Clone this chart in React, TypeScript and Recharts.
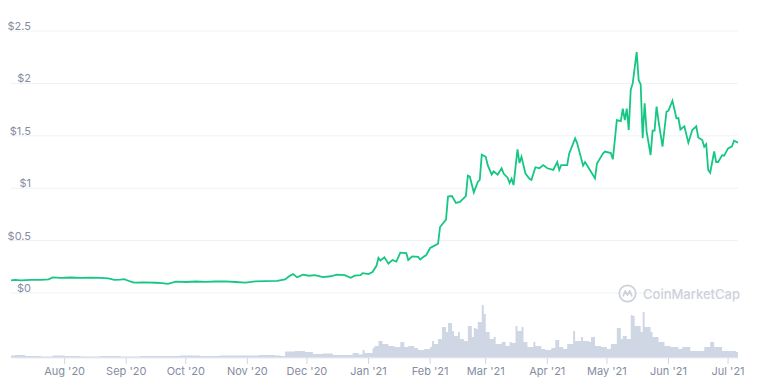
import React from 'react';
import { Area, CartesianGrid, ComposedChart, Line, XAxis, YAxis } from 'recharts';

// day 0 = 5 Jul 2020
const priceDays = [
	0, 2, 5, 10, 15, 19, 21, 25, 30, 35, 40, 45, 49, 52, 55, 57, 60, 62, 67, 73, 76, 79, 83, 88, 93, 98, 103, 108, 113, 118, 123, 128,
	134, 138, 140, 142, 144, 147, 150, 153, 157, 161, 164, 168, 171, 173, 176, 177, 180, 182, 184, 185, 186, 188, 190, 192, 194, 196,
	199, 200, 202, 205, 206, 208, 209, 211, 213, 215, 216, 219, 220, 222, 224, 226, 229, 230, 231, 233, 235, 236, 237, 239, 240, 242,
	243, 245, 247, 248, 250, 251, 252, 253, 255, 256, 257, 259, 261, 262, 264, 266, 268, 270, 273, 275, 276, 277, 280, 281, 284, 285,
	288, 289, 292, 294, 295, 298, 299, 302, 303, 305, 307, 308, 309, 310, 311, 312, 313, 315, 316, 317, 318, 319, 320, 322, 323, 324,
	325, 326, 328, 330, 331, 333, 335, 336, 337, 339, 341, 343, 345, 346, 348, 349, 350, 351, 352, 354, 355, 356, 358, 359, 361, 363,
	364, 366
];
const priceValues = [
	0.12, 0.125, 0.12, 0.125, 0.125, 0.13, 0.15, 0.145, 0.148, 0.145, 0.147, 0.145, 0.14, 0.125, 0.128, 0.133, 0.11, 0.1, 0.102, 0.098,
	0.095, 0.088, 0.108, 0.105, 0.11, 0.107, 0.11, 0.112, 0.105, 0.1, 0.112, 0.113, 0.115, 0.13, 0.16, 0.18, 0.15, 0.175, 0.165, 0.17,
	0.152, 0.16, 0.175, 0.17, 0.145, 0.165, 0.17, 0.19, 0.18, 0.2, 0.26, 0.335, 0.31, 0.34, 0.28, 0.315, 0.3, 0.385, 0.38, 0.315, 0.35,
	0.345, 0.32, 0.35, 0.36, 0.43, 0.45, 0.47, 0.63, 0.7, 0.92, 0.925, 0.86, 0.87, 0.925, 1.12, 1.11, 0.96, 1.06, 1.08, 1.32, 1.3,
	1.22, 1.13, 1.16, 1.13, 1.19, 1.14, 1.1, 1.05, 1.09, 1.03, 1.37, 1.24, 1.3, 1.14, 1.09, 1.08, 1.2, 1.19, 1.22, 1.19, 1.175, 1.25,
	1.175, 1.22, 1.22, 1.33, 1.476, 1.43, 1.215, 1.25, 1.157, 1.094, 1.235, 1.33, 1.35, 1.335, 1.276, 1.65, 1.64, 1.76, 1.65, 1.76,
	1.555, 1.94, 2.0, 2.3, 2.03, 1.99, 1.476, 1.81, 1.54, 1.317, 1.55, 1.55, 1.778, 1.64, 1.396, 1.73, 1.74, 1.835, 1.667, 1.67, 1.56,
	1.59, 1.434, 1.555, 1.59, 1.485, 1.46, 1.396, 1.42, 1.174, 1.148, 1.35, 1.25, 1.25, 1.315, 1.31, 1.38, 1.4, 1.453, 1.435
];

const volumeDays = [
	0, 2, 7, 15, 21, 27, 35, 45, 55, 65, 75, 85, 95, 105, 115, 125, 133, 136, 138, 143, 148, 152, 157, 162, 167, 172, 175, 177, 178,
	182, 183, 185, 187, 190, 193, 196, 198, 200, 203, 205, 208, 211, 212, 213, 215, 217, 219, 220, 222, 223, 225, 226, 228, 230, 232,
	233, 234, 235, 237, 238, 239, 241, 243, 244, 247, 249, 251, 252, 254, 255, 257, 258, 260, 263, 264, 267, 269, 272, 274, 276, 278,
	280, 283, 284, 287, 288, 291, 292, 294, 297, 300, 302, 305, 307, 308, 310, 312, 313, 314, 317, 318, 319, 322, 323, 326, 329, 332,
	336, 338, 342, 346, 349, 352, 354, 358, 361, 365, 366
];
// volume in $M
const volumeValues = [
	25, 30, 20, 15, 25, 20, 15, 20, 15, 20, 20, 25, 20, 25, 25, 30, 25, 20, 65, 70, 60, 40, 45, 30, 30, 50, 35, 80, 50, 100, 120, 170,
	140, 120, 110, 160, 110, 120, 100, 80, 90, 110, 170, 140, 190, 310, 260, 350, 270, 220, 260, 190, 170, 320, 210, 300, 290, 360, 530,
	440, 260, 190, 210, 140, 160, 120, 160, 150, 320, 270, 310, 160, 110, 160, 120, 90, 80, 100, 180, 110, 90, 140, 270, 170, 210, 170,
	160, 210, 120, 110, 90, 140, 300, 190, 220, 190, 430, 420, 320, 260, 460, 310, 260, 210, 160, 120, 110, 90, 110, 70, 70, 110, 160,
	110, 70, 70, 60, 40
];

const priceTicks = [0, 0.5, 1, 1.5, 2, 2.5];
const monthTickDays = [27, 58, 88, 119, 149, 180, 211, 239, 270, 300, 331, 361];
const monthTickLabels = ["Aug '20", "Sep '20", "Oct '20", "Nov '20", "Dec '20", "Jan '21", "Feb '21", "Mar '21", "Apr '21", "May '21", "Jun '21", "Jul '21"];

type Row = { day: number; price?: number; volume?: number };

const rowsByDay = new Map<number, Row>();
priceDays.forEach((d, i) => rowsByDay.set(d, { ...(rowsByDay.get(d) || { day: d }), price: priceValues[i] }));
volumeDays.forEach((d, i) => rowsByDay.set(d, { ...(rowsByDay.get(d) || { day: d }), volume: volumeValues[i] }));
const chartData: Row[] = Array.from(rowsByDay.values()).sort((a, b) => a.day - b.day);

const FONT = 'Inter, "Noto Sans", sans-serif';
const LABEL_COLOR = '#858ca2';

const renderPriceTick = (props: any) => {
	const { y, payload } = props;
	return (
		<text x={31} y={y - 1} textAnchor="end" fontSize={11} fill={LABEL_COLOR} fontFamily={FONT}>
			{'$' + payload.value}
		</text>
	);
};

const Watermark = () => (
	<div style={{ position: 'absolute', left: 618, top: 284, display: 'flex', alignItems: 'center', color: '#cdd1da', fontFamily: FONT, fontSize: 13, fontWeight: 500 }}>
		<svg width={19} height={19} viewBox="0 0 19 19">
			<circle cx={9.5} cy={9.5} r={8.2} fill="none" stroke="#cdd1da" strokeWidth={1.8} />
			<path d="M5 12.5 L7.2 7 L9.5 11 L11.8 7 L14 12.5" fill="none" stroke="#cdd1da" strokeWidth={1.8} strokeLinejoin="round" />
		</svg>
		<span style={{ marginLeft: 6 }}>CoinMarketCap</span>
	</div>
);

export default function App() {
	return (
		<div style={{ position: 'absolute', left: 0, top: 0, width: 758, height: 383, background: '#fff' }}>
			<ComposedChart width={758} height={383} data={chartData} margin={{ top: 31, right: 20, bottom: 0, left: 10 }}>
				<CartesianGrid yAxisId="price" vertical={false} stroke="#eff2f5" />
				<XAxis
					dataKey="day"
					type="number"
					domain={[0, 366]}
					ticks={monthTickDays}
					tickFormatter={(d: number) => monthTickLabels[monthTickDays.indexOf(d)] ?? ''}
					height={25}
					tickSize={6}
					tickMargin={3}
					axisLine={{ stroke: '#eff2f5' }}
					tickLine={{ stroke: '#cfd6e4' }}
					tick={{ fontSize: 11, fill: LABEL_COLOR, fontFamily: FONT }}
				/>
				<YAxis
					yAxisId="price"
					domain={[-0.62, 2.5]}
					ticks={priceTicks}
					allowDataOverflow
					width={1}
					axisLine={false}
					tickLine={false}
					tick={renderPriceTick}
				/>
				<YAxis yAxisId="volume" domain={[0, 3270]} allowDataOverflow hide />
				<Area
					yAxisId="volume"
					dataKey="volume"
					type="stepAfter"
					stroke="none"
					fill="#cfd6e4"
					fillOpacity={1}
					connectNulls
					isAnimationActive={false}
				/>
				<Line
					yAxisId="price"
					dataKey="price"
					type="linear"
					stroke="#16c784"
					strokeWidth={1.8}
					dot={false}
					connectNulls
					isAnimationActive={false}
				/>
			</ComposedChart>
			<Watermark />
		</div>
	);
}
